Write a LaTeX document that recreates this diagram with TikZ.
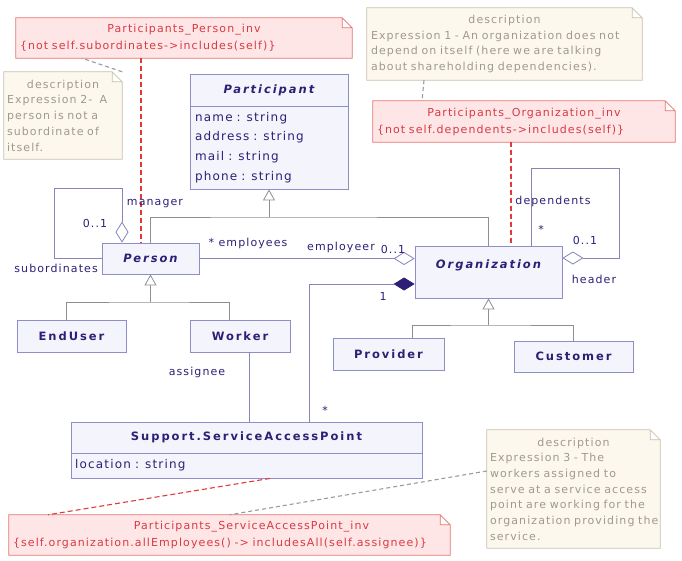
\documentclass[tikz,border=0pt]{standalone}
\usepackage{fontspec}
\setmainfont{DejaVu Sans}[LetterSpace=10,
  ItalicFont={DejaVu Sans Oblique},BoldFont={DejaVu Sans Bold},BoldItalicFont={DejaVu Sans Bold Oblique},
  BoldFeatures={LetterSpace=17},BoldItalicFeatures={LetterSpace=17}]
\usetikzlibrary{arrows.meta,backgrounds}
\definecolor{clsfill}{HTML}{F4F4FD}
\definecolor{clsline}{HTML}{8E8ECB}
\definecolor{ink}{HTML}{2E1F75}
\definecolor{genline}{HTML}{8F8F8F}
\definecolor{asline}{HTML}{8585BC}
\definecolor{rfill}{HTML}{FFE6E6}
\definecolor{rline}{HTML}{E57373}
\definecolor{rtext}{HTML}{D73A45}
\definecolor{tfill}{HTML}{FCF8EE}
\definecolor{tline}{HTML}{C8C1AD}
\definecolor{ttext}{HTML}{A09A8C}
\definecolor{rdash}{HTML}{E03A3A}
\definecolor{gdash}{HTML}{9A9A9A}
\begin{document}
\begin{tikzpicture}[x=1pt,y=-1pt,
    cls/.style={draw=clsline,fill=clsfill,text=ink,line width=0.8pt,inner sep=0pt,font=\fontsize{11.5}{14}\selectfont\bfseries},
    abstract/.style={cls,font=\fontsize{11.5}{14}\selectfont\bfseries\itshape},
    attr/.style={draw=clsline,fill=clsfill,text=ink,line width=0.8pt,inner xsep=5pt,inner ysep=0pt,align=left,font=\fontsize{12}{19.7}\selectfont},
    cnote/.style={text=rtext,inner xsep=4pt,inner ysep=0pt,align=left,font=\fontsize{11}{17}\selectfont},
    dnote/.style={text=ttext,inner xsep=4pt,inner ysep=0pt,align=left,font=\fontsize{11}{15.7}\selectfont},
    lbl/.style={text=ink,inner sep=0pt,font=\fontsize{11}{12}\selectfont},
    gen/.style={draw=genline,line width=0.8pt},
    isa/.style={gen,-{Triangle[fill=white,length=11pt,width=12pt]}},
    assoc/.style={draw=asline,line width=0.8pt},
    agg/.style={assoc,-{Diamond[fill=white,length=21pt,width=13pt]}},
    comp/.style={assoc,{Diamond[color=ink,fill=ink,length=21pt,width=13pt]}-},
    cdash/.style={draw=rdash,line width=1.1pt,dash pattern=on 5pt off 3pt},
    ldash/.style={draw=gdash,line width=1.1pt,dash pattern=on 4pt off 3pt},
  ]
  \useasboundingbox (0,0) rectangle (682,560);
  \node[abstract,minimum width=158pt,minimum height=32pt] (participant) at (269,90) {Participant};
  \node[attr,text width=148pt,minimum height=83pt] (participantattr) at (269,147.5) {name : string\\address : string\\mail : string\\phone : string};
  \node[abstract,minimum width=97pt,minimum height=31pt] (person) at (150.5,258.5) {Person};
  \node[cls,minimum width=109pt,minimum height=32pt] (enduser) at (71.5,336) {EndUser};
  \node[cls,minimum width=100pt,minimum height=32pt] (worker) at (240,336) {Worker};
  \node[abstract,minimum width=147pt,text height=22pt,text depth=30pt] (org) at (488.5,272) {Organization};
  \node[cls,minimum width=111pt,minimum height=32pt] (provider) at (388.5,354) {Provider};
  \node[cls,minimum width=119pt,minimum height=31pt] (customer) at (573.5,356.5) {Customer};
  \node[cls,minimum width=351pt,minimum height=31pt] (sap) at (246.5,437.5) {Support.ServiceAccessPoint};
  \node[attr,text width=343pt,inner xsep=4pt,minimum height=25pt] (sapattr) at (246.5,465.5) {location : string};

  \node[cnote,text width=328pt,minimum height=40pt] (personinv) at (184,38) {\hfill Participants\_Person\_inv\hfill\null\\\{not self.subordinates->includes(self)\}};
  \node[dnote,text width=112pt,inner xsep=3pt,minimum height=87pt] (desctwo) at (63,115.5) {\hfill description\hfill\null\\Expression 2-\ \ A\\person is not a\\subordinate of\\itself.};
  \node[dnote,text width=267pt,minimum height=72pt] (descone) at (504.5,44) {\hfill description\hfill\null\\Expression 1 - An organization does not\\depend on itself (here we are talking\\about shareholding dependencies).};
  \node[cnote,text width=294pt,minimum height=41pt] (orginv) at (524,121.5) {\hfill Participants\_Organization\_inv\hfill\null\\\{not self.dependents->includes(self)\}};
  \node[dnote,text width=167pt,inner xsep=3pt,minimum height=118pt] (descthree) at (573.5,489) {\hfill description\hfill\null\\Expression 3 - The\\workers assigned to\\serve at a service access\\point are working for the\\\mbox{organization providing the}\\service.};
  \node[cnote,text width=433pt,minimum height=40pt] (sapinv) at (229.5,535) {\hfill\hspace*{44pt}Participants\_ServiceAccessPoint\_inv\hfill\null\\\{self.organization.allEmployees() -> includesAll(self.assignee)\}};
  \begin{scope}[on background layer]
    \foreach \n/\lc/\fc in {personinv/rline/rfill,orginv/rline/rfill,sapinv/rline/rfill,descone/tline/tfill,desctwo/tline/tfill,descthree/tline/tfill}
      \draw[draw=\lc,fill=\fc,line width=0.8pt] (\n.north west) -- ([xshift=-10pt]\n.north east) -- ([yshift=-10pt]\n.north east) -- (\n.south east) -- (\n.south west) -- cycle ([xshift=-10pt]\n.north east) |- ([yshift=-10pt]\n.north east);
  \end{scope}

  \coordinate (pj) at (269,217);
  \draw[gen] (person.north) |- (pj) -| (org.north);
  \draw[isa] (pj) -- (participantattr.south);
  \coordinate (pk) at (150.5,302);
  \draw[gen] ([xshift=-5.5pt]enduser.north) |- (pk) -| ([xshift=-11pt]worker.north);
  \draw[isa] (pk) -- (person.south);
  \coordinate (ok) at (488.5,325);
  \draw[gen] ([xshift=23.5pt]provider.north) |- (ok) -| (customer.north);
  \draw[isa] (ok) -- (org.south);

  \draw[agg] (person.west) -| ++(-47,-70) -| ([xshift=-28.5pt]person.north);
  \draw[agg] (person.east) -- (person.east -| org.west);
  \draw[comp] ([yshift=-12pt]org.west) -| ([xshift=62.5pt]sap.north);
  \draw[assoc] ([xshift=9pt]worker.south) -- ([xshift=9pt]worker.south |- sap.north);
  \draw[agg] ([xshift=42.5pt]org.north) |- ++(88,-77) |- ([yshift=14pt]org.east);

  \draw[cdash] ([xshift=-43pt]personinv.south) -- ([xshift=-43pt]personinv.south |- person.north);
  \draw[cdash] ([xshift=-13pt]orginv.south) -- ([xshift=-13pt]orginv.south |- org.north);
  \draw[cdash] ([xshift=23.5pt]sapattr.south) -- ([xshift=-181.5pt]sapinv.north);
  \draw[ldash] (desctwo.north east) -- ([xshift=-102pt]personinv.south);
  \draw[ldash] ([xshift=-80.5pt]descone.south) -- ([xshift=-102pt]orginv.north);
  \draw[ldash] ([yshift=18pt]descthree.west) -- (sapinv.north);

  \node[lbl] (manager) at (155,204) {manager};
  \node[lbl] (mgrmult) at (95,223) {0..1};
  \node[lbl,anchor=east] (subordinates) at (98,268) {subordinates};
  \node[lbl] (employees) at (248,243) {* employees};
  \node[lbl] (employeer) at (341,247) {employeer};
  \node[lbl] (emplmult) at (393,249) {0..1};
  \node[lbl] (orgmult) at (383,296) {1};
  \node[lbl] (assignee) at (197,372) {assignee};
  \node[lbl] (sapmult) at (325,410) {*};
  \node[lbl] (dependents) at (553,201) {dependents};
  \node[lbl] (depmult) at (541,229) {*};
  \node[lbl] (headmult) at (585,240) {0..1};
  \node[lbl] (header) at (594,279) {header};
\end{tikzpicture}
\end{document}
